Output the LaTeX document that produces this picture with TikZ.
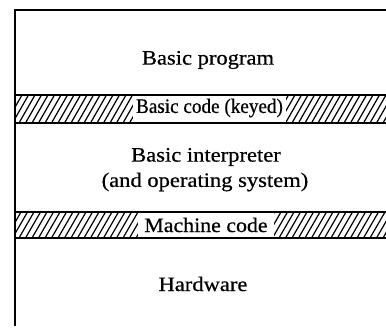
\documentclass[tikz,border=0pt]{standalone}
\usepackage{fontspec}
\setmainfont[FakeStretch=1.1,FakeBold=0.6]{Liberation Serif}
\begin{document}
\begin{tikzpicture}[x=1pt,y=-1pt,
  lbl/.style={font=\fontsize{20.5}{23}\selectfont, inner sep=0pt, align=center},
  frame/.style={line width=1.4pt, black},
  hatchline/.style={line width=1.2pt, black},
  gap/.style={fill=white, draw=none}]
\useasboundingbox (0,0) rectangle (386,329);
% hatched bands
\begin{scope}
  \clip (15,95) rectangle (386,123);
  \foreach \i in {-20,-13.5,...,400} \draw[hatchline] (\i,123) -- (\i+16,95);
\end{scope}
\begin{scope}
  \clip (15,212) rectangle (386,238);
  \foreach \i in {-20,-13.5,...,400} \draw[hatchline] (\i,238) -- (\i+15,212);
\end{scope}
\fill[gap] (133,96) rectangle (286,122);
\fill[gap] (138,213) rectangle (274,237);
% frame lines
\draw[frame] (15,326) -- (15,10) -- (386,10);
\draw[frame] (15,95) -- (386,95);
\draw[frame] (15,123) -- (386,123);
\draw[frame] (15,212) -- (386,212);
\draw[frame] (15,238) -- (386,238);
% labels
\node[lbl] (prog) at (208,60) {Basic program};
\node[lbl] (keyed) at (209.5,108) {\scalebox{0.85}[1]{Basic code (keyed)}};
\node[lbl] (interp) at (206,157) {Basic interpreter};
\node[lbl] (os) at (205,182) {(and operating system)};
\node[lbl] (mc) at (206,225) {\scalebox{0.97}[1]{Machine code}};
\node[lbl] (hw) at (203,284) {Hardware};
\end{tikzpicture}
\end{document}
